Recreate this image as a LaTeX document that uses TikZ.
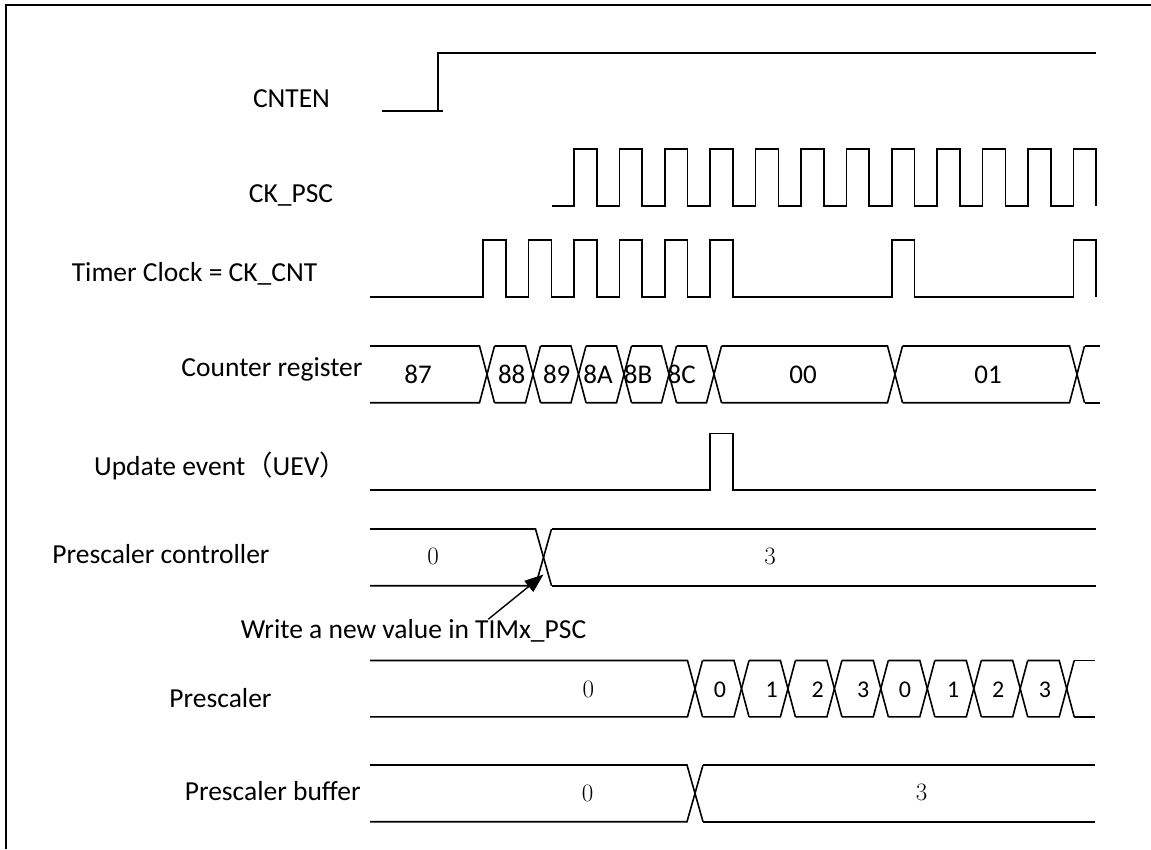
\documentclass[tikz,border=0pt]{standalone}
\usepackage{fontspec}
\setmainfont{Carlito}
\newfontfamily\cjk{Noto Sans CJK SC}
\newfontfamily\lmfont{Latin Modern Roman}
\usetikzlibrary{arrows.meta}
\newcommand\busrow[7]{%
  \foreach \c [evaluate=\c as \e using \c+#5, remember=\e as \p (initially #3)] in {#6} {
    \draw[wave] (\p,#1) -- ({\c-#5},#1) -- ({\c+#5},#2);
    \draw[wave] (\p,#2) -- ({\c-#5},#2) -- ({\c+#5},#1);
  }
  \draw[wave] ({#7+#5},#1) -- (#4,#1);
  \draw[wave] ({#7+#5},#2) -- (#4,#2);
}
\begin{document}
\begin{tikzpicture}[x=1pt,y=-1pt,
  wave/.style={line width=1.6pt, line join=miter},
  lbl/.style={font=\fontsize{27.5}{30}\selectfont, inner sep=0, anchor=base},
  cnum/.style={font=\fontsize{27}{30}\selectfont, inner sep=0, anchor=base},
  pnum/.style={font=\fontsize{24}{26}\selectfont, inner sep=0, anchor=base},
  snum/.style={font=\lmfont\fontsize{25}{28}\selectfont, inner sep=0, anchor=base}]
\useasboundingbox (0,0) rectangle (1151,849);
\fill[white] (0,0) rectangle (1151,849);
% frame
\draw[line width=1.5pt] (6,849) -- (6,5) -- (1151,5);

% labels
\node[lbl] (cnten) at (291.5,107.3) {CNTEN};
\node[lbl] (ckpsc) at (291,202.7) {CK\_PSC};
\node[lbl] (tclk) at (194.5,281.7) {Timer Clock = CK\_CNT};
\node[lbl] (creg) at (272,376.5) {Counter register};
\node[lbl] (uev) at (220.5,475.4) {Update event{\cjk （}UEV{\cjk ）}};
\node[lbl] (pctl) at (161,563) {Prescaler controller};
\node[lbl] (write) at (413.5,638.5) {Write a new value in TIMx\_PSC};
\node[lbl] (psc) at (220.5,707.7) {Prescaler};
\node[lbl] (pbuf) at (272.7,800) {Prescaler buffer};

% CNTEN
\draw[wave] (382,110.7) -- (443,110.7);
\draw[wave] (438,110.7) -- (438,52.7) -- (1096,52.7);

% CK_PSC
\draw[wave] (552,205.7) foreach \k in {0,...,11} {
  -- ({574+45.4*\k},205.7) -- ({574+45.4*\k},148.7)
  -- ({596.7+45.4*\k},148.7) -- ({596.7+45.4*\k},205.7) };

% CK_CNT
\draw[wave] (370,296.7) foreach \k in {-2,-1,0,1,2,3,7,11} {
  -- ({574+45.4*\k},296.7) -- ({574+45.4*\k},240)
  -- ({596.7+45.4*\k},240) -- ({596.7+45.4*\k},296.7) };

% Counter register
\busrow{346}{402.7}{370}{1100}{7.5}{487,533,578.5,624,669,714,895,1077}{1077}
\node[cnum] (c87) at (418,383.3) {87};
\node[cnum] (c88) at (511.7,383.3) {88};
\node[cnum] (c89) at (556.7,383.3) {89};
\node[cnum] (c8a) at (598,383.3) {8A};
\node[cnum] (c8b) at (638,383.3) {8B};
\node[cnum] (c8c) at (681.7,383.3) {8C};
\node[cnum] (c00) at (803,383.3) {00};
\node[cnum] (c01) at (988,383.3) {01};

% UEV
\draw[wave] (370,490) -- (710,490) -- (710,433.3) -- (732.7,433.3) -- (732.7,490) -- (1096,490);

% Prescaler controller
\busrow{529}{585.7}{370}{1096}{8}{543.5}{543.5}
\node[snum] (pc0) at (433,564) {0};
\node[snum] (pc3) at (770,564) {3};

% arrow
\coordinate (wx) at (488.3,0);
\coordinate (wtip) at (543.5,574.5);
\draw[line width=1.4pt,-{Triangle[length=19pt,width=14pt]}] (wx |- write.north) -- (wtip);

% Prescaler
\busrow{660.5}{716.8}{370}{1095}{7.5}{695,741.5,787.9,834.4,880.8,927.3,973.8,1020.2,1066.7}{1066.7}
\node[snum] (ps0) at (588.3,697.7) {0};
\foreach \x/\v [count=\i] in {720/0,771.7/1,817.7/2,863.3/3,905/0,953.3/1,998.3/2,1045/3}
  \node[pnum] (pd\i) at (\x,697.3) {\v};

% Prescaler buffer
\busrow{765}{821.7}{370}{1095}{8}{695}{695}
\node[snum] (pb0) at (587.7,801.5) {0};
\node[snum] (pb3) at (921.7,800) {3};
\end{tikzpicture}
\end{document}
